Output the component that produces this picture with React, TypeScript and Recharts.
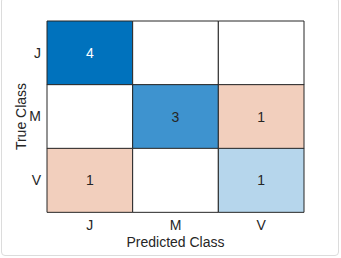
import React from "react";
import { BarChart, Bar, XAxis, YAxis, Cell, LabelList, Label } from "recharts";

const trueClasses = ["J", "M", "V"];
const predictedClasses = ["J", "M", "V"];
// counts[row = true class][col = predicted class]
const counts = [
  [4, 0, 0],
  [0, 3, 1],
  [1, 0, 1],
];

const colTicks = [0.5, 1.5, 2.5];

// one unit-wide segment per predicted class, stacked along each true-class row
const data = trueClasses.map((row, i) => ({
  row,
  c0: 1,
  c1: 1,
  c2: 1,
  n0: counts[i][0],
  n1: counts[i][1],
  n2: counts[i][2],
}));

const maxCount = Math.max(...counts.flat());

function cellColor(v: number, diag: boolean) {
  if (v === 0) return "#ffffff";
  if (diag) {
    if (v === maxCount) return "#0072BD";
    if (v === 3) return "#3E93CF";
    return "#B6D6EC";
  }
  return "#F2CFBD";
}

const font = "'Liberation Sans', Arial, sans-serif";

function CountLabel(props: any) {
  const { x, y, width, height, value } = props;
  if (!value) return null;
  return (
    <text
      x={x + width / 2}
      y={y + height / 2}
      dy="0.36em"
      textAnchor="middle"
      fontSize={14}
      fontFamily={font}
      fill={value === maxCount ? "#ffffff" : "#262626"}
    >
      {value}
    </text>
  );
}

function YTitle(props: any) {
  const { viewBox } = props;
  const cx = viewBox.x + 21;
  const cy = viewBox.y + viewBox.height / 2;
  return (
    <text
      x={cx}
      y={cy}
      dy="0.36em"
      textAnchor="middle"
      fontSize={14}
      fontFamily={font}
      fill="#262626"
      transform={`rotate(-90, ${cx}, ${cy})`}
    >
      True Class
    </text>
  );
}

export default function App() {
  return (
    <div style={{ position: "relative", width: 341, height: 258, background: "#fff" }}>
      <style>{`body{margin:0}`}</style>
      <div
        style={{
          position: "absolute",
          left: 1,
          top: -3,
          width: 336,
          height: 257,
          border: "1px solid #dcdcdc",
          borderRadius: 4,
          pointerEvents: "none",
        }}
      />
      <BarChart
        width={341}
        height={258}
        data={data}
        layout="vertical"
        barCategoryGap={0}
        margin={{ top: 21, right: 37, left: 0, bottom: 0 }}
      >
        <XAxis
          type="number"
          domain={[0, 3]}
          ticks={colTicks}
          tickFormatter={(v: number) => predictedClasses[Math.floor(v)]}
          axisLine={false}
          tickLine={false}
          tickSize={0}
          tickMargin={8}
          height={46}
          tick={{ fill: "#262626", fontSize: 14, fontFamily: font }}
        >
          <Label
            value="Predicted Class"
            position="insideBottom"
            offset={11}
            style={{ fill: "#262626", fontSize: 14, fontFamily: font }}
          />
        </XAxis>
        <YAxis
          type="category"
          dataKey="row"
          width={47}
          axisLine={false}
          tickLine={false}
          tickSize={0}
          tickMargin={6}
          tick={{ fill: "#262626", fontSize: 14, fontFamily: font }}
        >
          <Label content={<YTitle />} />
        </YAxis>
        {[0, 1, 2].map((j) => (
          <Bar
            key={j}
            dataKey={`c${j}`}
            stackId="row"
            stroke="#262626"
            strokeWidth={1}
            isAnimationActive={false}
          >
            {data.map((_, i) => (
              <Cell key={i} fill={cellColor(counts[i][j], i === j)} />
            ))}
            <LabelList dataKey={`n${j}`} content={<CountLabel />} />
          </Bar>
        ))}
      </BarChart>
    </div>
  );
}
